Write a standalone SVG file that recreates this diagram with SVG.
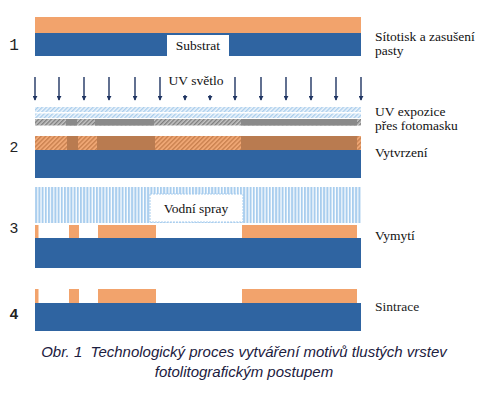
<svg xmlns="http://www.w3.org/2000/svg" width="484" height="396" viewBox="0 0 484 396">
<style>
.lbl{font-family:"Liberation Serif","Times New Roman",serif;font-size:13.5px;fill:#111}
.num{font-family:"Liberation Sans",Arial,sans-serif;font-size:15px;fill:#222}
.cap{font-family:"Liberation Sans",Arial,sans-serif;font-style:italic;font-size:15px;fill:#1c2040}
.paste{fill:#f2a36c}
.sub{fill:#2f64a1}
.arr{stroke:#1f3462;stroke-width:1.4;fill:none}
</style>
<defs>
<marker id="ah" viewBox="0 0 6 6" refX="5" refY="3" markerWidth="5" markerHeight="5" orient="auto" markerUnits="userSpaceOnUse">
<path d="M0,0 L6,3 L0,6 z" fill="#1f3462"/>
</marker>
<pattern id="hUV" width="3" height="3" patternUnits="userSpaceOnUse" patternTransform="rotate(45)">
<rect width="3" height="3" fill="#eef5fc"/><line x1="0.7" y1="0" x2="0.7" y2="3" stroke="#a9cdec" stroke-width="1.4"/>
</pattern>
<pattern id="hGray" width="3" height="3" patternUnits="userSpaceOnUse" patternTransform="rotate(45)">
<rect width="3" height="3" fill="#c4c4c4"/><line x1="0.7" y1="0" x2="0.7" y2="3" stroke="#7a7a7a" stroke-width="1.3"/>
</pattern>
<pattern id="hOr" width="3.2" height="3.2" patternUnits="userSpaceOnUse" patternTransform="rotate(45)">
<rect width="3.2" height="3.2" fill="#efa775"/><line x1="0.7" y1="0" x2="0.7" y2="3.2" stroke="#c47c4a" stroke-width="1.2"/>
</pattern>
<pattern id="vSp" width="3.2" height="10" patternUnits="userSpaceOnUse">
<rect width="3.2" height="10" fill="#ffffff"/><rect x="0" width="2" height="10" fill="#a8cdee"/>
</pattern>
</defs>

<g id="stage1">
<rect class="paste" x="35" y="17" width="326" height="16"/>
<rect class="sub" x="35" y="33" width="326" height="23"/>
<rect x="167" y="35" width="62" height="21" fill="#fff"/>
<text class="lbl" x="198" y="50" text-anchor="middle" font-size="12.5">Substrat</text>
<text x="14" y="50" text-anchor="middle" style="font-family:'Liberation Mono',monospace;font-size:16px;fill:#222">1</text>
<text class="lbl" x="375" y="41">Sítotisk a zasušení</text>
<text class="lbl" x="375" y="55">pasty</text>
</g>

<g id="connectors">
<line class="arr" x1="35" y1="77" x2="35" y2="100" marker-end="url(#ah)"/>
<line class="arr" x1="59" y1="77" x2="59" y2="100" marker-end="url(#ah)"/>
<line class="arr" x1="84" y1="77" x2="84" y2="100" marker-end="url(#ah)"/>
<line class="arr" x1="109" y1="77" x2="109" y2="100" marker-end="url(#ah)"/>
<line class="arr" x1="135" y1="77" x2="135" y2="100" marker-end="url(#ah)"/>
<line class="arr" x1="160" y1="77" x2="160" y2="100" marker-end="url(#ah)"/>
<line class="arr" x1="185" y1="95" x2="185" y2="100" marker-end="url(#ah)"/>
<line class="arr" x1="210" y1="95" x2="210" y2="100" marker-end="url(#ah)"/>
<line class="arr" x1="235" y1="77" x2="235" y2="100" marker-end="url(#ah)"/>
<line class="arr" x1="261" y1="77" x2="261" y2="100" marker-end="url(#ah)"/>
<line class="arr" x1="286" y1="77" x2="286" y2="100" marker-end="url(#ah)"/>
<line class="arr" x1="311" y1="77" x2="311" y2="100" marker-end="url(#ah)"/>
<line class="arr" x1="336" y1="77" x2="336" y2="100" marker-end="url(#ah)"/>
<line class="arr" x1="361" y1="77" x2="361" y2="100" marker-end="url(#ah)"/>
</g>

<g id="uv">
<text class="lbl" x="196" y="85" text-anchor="middle" font-size="14">UV světlo</text>
<rect x="35" y="107" width="326" height="5" fill="url(#hUV)"/>
<rect x="35" y="113.5" width="326" height="4.5" fill="url(#hUV)"/>
<rect x="35" y="119" width="326" height="6.5" fill="url(#hGray)"/>
<rect x="66" y="119" width="11" height="6.5" fill="#8a8a8a"/>
<rect x="95" y="119" width="59" height="6.5" fill="#8a8a8a"/>
<rect x="241" y="119" width="116" height="6.5" fill="#8a8a8a"/>
<text class="lbl" x="375" y="116">UV expozice</text>
<text class="lbl" x="375" y="130">přes fotomasku</text>
</g>

<g id="stage2">
<rect x="35" y="136" width="326" height="14" fill="url(#hOr)"/>
<rect x="67" y="136" width="11" height="14" fill="#b97b50"/>
<rect x="97" y="136" width="58" height="14" fill="#b97b50"/>
<rect x="241" y="136" width="116" height="14" fill="#b97b50"/>
<rect class="sub" x="35" y="150" width="326" height="28"/>
<text class="num" x="14" y="152" text-anchor="middle">2</text>
<text class="lbl" x="375" y="157">Vytvrzení</text>
</g>

<g id="stage3">
<rect x="35" y="187" width="326" height="36" fill="url(#vSp)"/>
<rect x="150" y="194" width="93" height="28" fill="#fff" stroke="#a8cdee" stroke-width="1" stroke-dasharray="2 1"/>
<text class="lbl" x="196" y="213" text-anchor="middle" font-size="14">Vodní spray</text>
<rect class="paste" x="35" y="225" width="3.5" height="13"/>
<rect class="paste" x="69" y="225" width="10" height="13"/>
<rect class="paste" x="98" y="225" width="58" height="13"/>
<rect class="paste" x="242" y="225" width="115" height="13"/>
<rect class="sub" x="35" y="238" width="326" height="30"/>
<text class="num" x="14" y="233" text-anchor="middle">3</text>
<text class="lbl" x="375" y="240">Vymytí</text>
</g>

<g id="stage4">
<rect class="paste" x="35" y="289" width="3.5" height="14"/>
<rect class="paste" x="69" y="289" width="10" height="14"/>
<rect class="paste" x="98" y="289" width="58" height="14"/>
<rect class="paste" x="242" y="289" width="115" height="14"/>
<rect class="sub" x="35" y="303" width="326" height="28"/>
<text class="num" x="14" y="319" text-anchor="middle" font-weight="bold">4</text>
<text class="lbl" x="375" y="311" font-size="13" style="fill:#222">Sintrace</text>
</g>

<g id="caption">
<text class="cap" x="244" y="357" text-anchor="middle" xml:space="preserve">Obr. 1  Technologický proces vytváření motivů tlustých vrstev</text>
<text class="cap" x="244" y="377" text-anchor="middle">fotolitografickým postupem</text>
</g>
</svg>
